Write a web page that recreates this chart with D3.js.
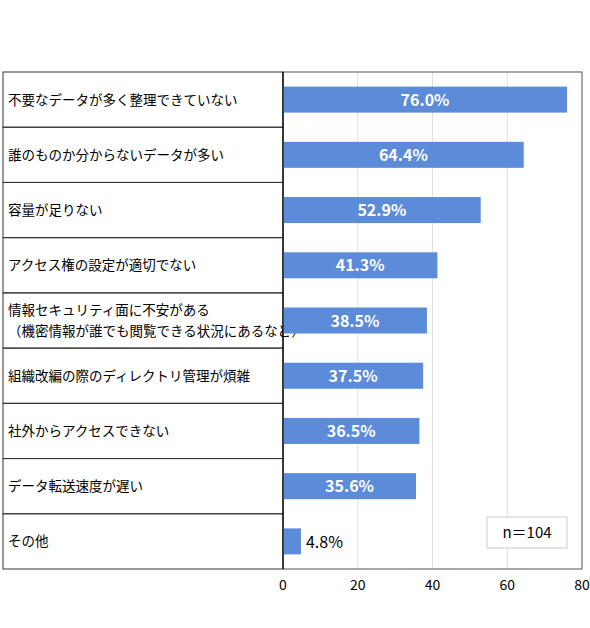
<!DOCTYPE html><html><head><meta charset="utf-8"><script src="https://cdn.jsdelivr.net/npm/d3@7"></script>
<style>body{margin:0;background:#fff}</style></head><body><svg id="c" width="590" height="628"></svg>
<script>
const categories=["不要なデータが多く整理できていない","誰のものか分からないデータが多い","容量が足りない","アクセス権の設定が適切でない","情報セキュリティ面に不安がある\n（機密情報が誰でも閲覧できる状況にあるなど）","組織改編の際のディレクトリ管理が煩雑","社外からアクセスできない","データ転送速度が遅い","その他"];
const values=[76.0,64.4,52.9,41.3,38.5,37.5,36.5,35.6,4.8];
const ticks=[0,20,40,60,80];
const note="n＝104";
const svg=d3.select("#c");
const F="'Noto Sans CJK JP','Noto Sans',sans-serif";
const x=d3.scaleLinear().domain([0,80]).range([283,582]);
const y=d3.scaleBand().domain(categories).range([72,569]);
ticks.forEach(t=>{if(t>0&&t<80)svg.append("line").attr("x1",x(t)).attr("x2",x(t)).attr("y1",72).attr("y2",569).attr("stroke","#e0e0e0");});
svg.append("rect").attr("x",283).attr("y",72).attr("width",299).attr("height",497).attr("fill","none").attr("stroke","#555");
categories.forEach((c,i)=>{
  const y0=y(c);
  svg.append("rect").attr("x",3).attr("y",y0).attr("width",280).attr("height",y.bandwidth()).attr("fill","none").attr("stroke","#333");
  const lines=c.split("\n");
  lines.forEach((l,j)=>svg.append("text").attr("x",8).attr("y",y0+y.bandwidth()/2+(j-(lines.length-1)/2)*21+5).attr("font-family",F).attr("font-size",13.5).attr("fill","#000").text(l));
  const bh=26;
  svg.append("rect").attr("x",x(0)).attr("y",y0+y.bandwidth()/2-bh/2).attr("width",x(values[i])-x(0)).attr("height",bh).attr("fill","#5b8bd9");
  const lab=values[i].toFixed(1)+"%";
  if(values[i]>20) svg.append("text").attr("x",(x(0)+x(values[i]))/2).attr("y",y0+y.bandwidth()/2+6).attr("text-anchor","middle").attr("font-family",F).attr("font-weight","bold").attr("font-size",16).attr("fill","#fff").text(lab);
  else svg.append("text").attr("x",x(values[i])+5).attr("y",y0+y.bandwidth()/2+7).attr("font-family",F).attr("font-size",16).attr("fill","#000").text(lab);
});
svg.append("line").attr("x1",283).attr("x2",283).attr("y1",72).attr("y2",569).attr("stroke","#000");
svg.append("g").selectAll("text").data(ticks).join("text").attr("x",d=>x(d)).attr("y",590).attr("text-anchor","middle").attr("font-family",F).attr("font-size",14).text(d=>d);
svg.append("rect").attr("x",487).attr("y",517).attr("width",80).attr("height",31).attr("fill","#fff").attr("stroke","#ccc");
svg.append("text").attr("x",527).attr("y",538).attr("text-anchor","middle").attr("font-family",F).attr("font-size",15).text(note);
</script></body></html>
